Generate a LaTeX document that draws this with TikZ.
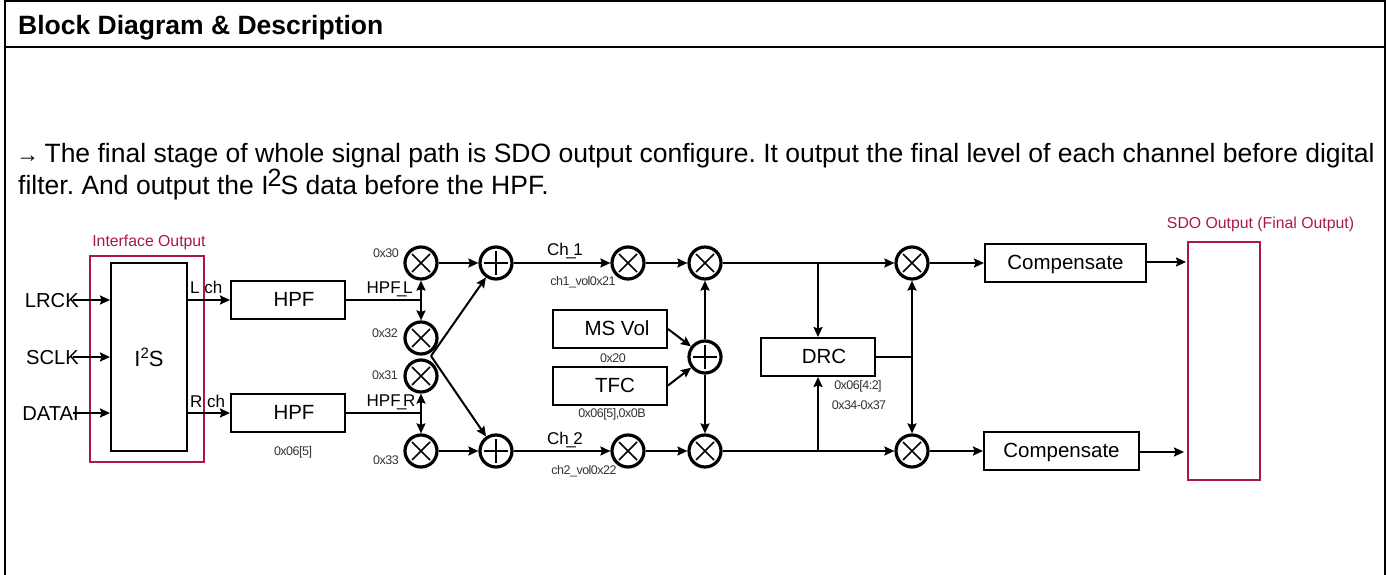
\documentclass[tikz,border=0pt]{standalone}
\usepackage{fontspec}
\setmainfont{Liberation Sans}
\newfontfamily\tightf[LetterSpace=-4]{Liberation Sans}
\usetikzlibrary{arrows.meta}
\definecolor{crim}{HTML}{A8174F}
\definecolor{small}{HTML}{333333}
\newcommand{\fs}[1]{\fontsize{#1pt}{#1pt}\selectfont}
\tikzset{
  x=1pt,y=-1pt,
  box/.style={draw,line width=2pt,minimum width=#1,minimum height=38pt,inner sep=0pt,text height=14.5pt,text depth=1.5pt,font=\fs{20.5}},
  redbox/.style={draw=crim,line width=1.3pt,inner sep=0pt},
  conn/.style={line width=2pt,-{Stealth[length=10pt,width=9pt,inset=1.5pt]}},
  wire/.style={line width=2pt},
  mul/.style={draw,circle,line width=3.2pt,minimum size=32pt,inner sep=0pt,
    path picture={\draw[line width=1.7pt]
      ([shift={(-9pt,-9pt)}]path picture bounding box.center)--([shift={(9pt,9pt)}]path picture bounding box.center)
      ([shift={(-9pt,9pt)}]path picture bounding box.center)--([shift={(9pt,-9pt)}]path picture bounding box.center);}},
  add/.style={draw,circle,line width=3.2pt,minimum size=32pt,inner sep=0pt,
    path picture={\draw[line width=1.7pt]
      ([shift={(-12pt,0pt)}]path picture bounding box.center)--([shift={(12pt,0pt)}]path picture bounding box.center)
      ([shift={(0pt,-12pt)}]path picture bounding box.center)--([shift={(0pt,12pt)}]path picture bounding box.center);}},
  sig/.style={inner sep=0pt,font=\fs{20.2}},
  lab/.style={inner sep=0pt,font=\fs{17}},
  reg/.style={inner sep=0pt,text=small,font=\tightf\fs{12.5}},
  redlab/.style={inner sep=0pt,text=crim,font=\fs{15.8}},
}
\begin{document}
\frenchspacing
\begin{tikzpicture}
\useasboundingbox (0,0) rectangle (1386,575);
% frame
\coordinate (fbl) at (5,575); \coordinate (ftl) at (5,1); \coordinate (ftr) at (1385,1); \coordinate (fbr) at (1385,575);
\coordinate (rl) at (5,47); \coordinate (rr) at (1385,47);
\draw[line width=2pt] (fbl)--(ftl)--(ftr)--(fbr);
\draw[line width=2pt] (rl)--(rr);
\node[anchor=base west,inner sep=0pt,font=\bfseries\fs{26.5}] (title) at (18,35) {Block Diagram \& Description};
\node[anchor=base west,inner sep=0pt,font=\fs{26.5}] (l1) at (18,162) {\kern-2pt{\fs{23}→}\kern-2pt{} The final stage of whole signal path is SDO output configure. It output the final level of each channel before digital};
\node[anchor=base west,inner sep=0pt,font=\fs{26.5}] (l2) at (18,194) {filter. And output the I\kern-1pt\raisebox{8pt}{\fs{25}2}\kern-1pt S data before the HPF.};
% red boxes
\node[redbox,minimum width=114pt,minimum height=206pt] (iface) at (147,359) {};
\node[redbox,minimum width=72pt,minimum height=238pt] (sdo) at (1224,361) {};
\node[redlab] (ifl) at (149,242) {Interface Output};
\node[redlab] (sdl) at (1260.5,224) {SDO Output (Final Output)};
% blocks
\node[draw,line width=2pt,minimum width=76pt,minimum height=188pt,inner sep=0pt,font=\fs{22}] (i2s) at (149,357) {I\raisebox{8pt}{\fs{15}2}S};
\node[box=114pt] (h1) at (288,300) {\hspace*{12pt}HPF};
\node[box=114pt] (h2) at (288,413) {\hspace*{12pt}HPF};
\node[box=114pt] (ms) at (610,329) {\hspace*{14pt}MS Vol};
\node[box=114pt] (tfc) at (610,385.5) {\hspace*{10pt}TFC};
\node[box=114pt] (drc) at (818,357) {\hspace*{12pt}DRC};
\node[box=161pt] (c1) at (1065.5,263) {Compensate};
\node[box=155pt] (c2) at (1061.5,451) {Compensate};
% circles
\node[mul] (m30) at (421,263) {};
\node[mul] (m32) at (421,338) {};
\node[mul] (m31) at (421,376) {};
\node[mul] (m33) at (421,451) {};
\node[add] (a1) at (496,263) {};
\node[add] (a2) at (496,451) {};
\node[mul] (v1) at (628,263) {};
\node[mul] (v2) at (628,451) {};
\node[mul] (g1) at (705,263) {};
\node[mul] (g2) at (705,451) {};
\node[add] (a3) at (705,357) {};
\node[mul] (d1) at (912,263) {};
\node[mul] (d2) at (912,451) {};
% inputs
\node[sig,anchor=east] (lrck) at (79,301) {LRCK};
\node[sig,anchor=east] (sclk) at (79,358) {SCLK};
\node[sig,anchor=east] (datai) at (79,414) {DATAI};
\coordinate (il) at (73,300); \coordinate (is) at (73,357); \coordinate (id) at (73,413);
\draw[conn] (il)--(il-|i2s.west);
\draw[conn] (is)--(is-|i2s.west);
\draw[conn] (id)--(id-|i2s.west);
% i2s to hpf
\draw[conn] (h1.west-|i2s.east)--(h1.west);
\draw[conn] (h2.west-|i2s.east)--(h2.west);
\node[lab,anchor=base west] (lch) at (190,293) {L ch};
\node[lab,anchor=base west] (rch) at (190,407) {R ch};
% hpf outputs
\coordinate (j1) at (421,300); \coordinate (j2) at (421,413);
\draw[wire] (h1.east)--(j1);
\draw[wire] (h2.east)--(j2);
\draw[conn] (j1)--(m30);
\draw[conn] (j1)--(m32);
\draw[conn] (j2)--(m31);
\draw[conn] (j2)--(m33);
\node[lab,anchor=base west] (hl) at (366.5,293) {HPF\kern-3.5pt\_\kern-3.5pt L};
\node[lab,anchor=base west] (hr) at (366.5,406) {HPF\kern-3.5pt\_\kern-3.5pt R};
% forward path
\coordinate (cx) at (431,356);
\draw[conn] (m30)--(a1);
\draw[conn] (m33)--(a2);
\draw[conn] (cx)--(a1);
\draw[conn] (cx)--(a2);
\draw[conn] (a1)--(v1);
\draw[conn] (a2)--(v2);
\draw[conn] (v1)--(g1);
\draw[conn] (v2)--(g2);
\draw[conn] (g1)--(d1);
\draw[conn] (g2)--(d2);
\draw[conn] (a3)--(g1);
\draw[conn] (a3)--(g2);
\draw[conn] (ms.east)--(a3);
\draw[conn] (tfc.east)--(a3);
\coordinate (t1) at (drc.north|-g1); \coordinate (t2) at (drc.south|-g2);
\draw[conn] (t1)--(drc.north);
\draw[conn] (t2)--(drc.south);
\coordinate (dj) at (d1|-drc.east);
\draw[wire] (drc.east)--(dj);
\draw[conn] (dj)--(d1);
\draw[conn] (dj)--(d2);
\draw[conn] (d1)--(c1);
\draw[conn] (d2)--(c2);
\coordinate (s1) at (1186,262); \coordinate (s2) at (1184,452);
\draw[conn] (c1.east|-s1)--(s1);
\draw[conn] (c2.east|-s2)--(s2);
% labels
\node[lab,anchor=base] (ch1) at (565,255) {Ch\kern-2.5pt\_\kern-2.5pt 1};
\node[lab,anchor=base] (ch2) at (565,444) {Ch\kern-2.5pt\_\kern-2.5pt 2};
\node[reg] (r30) at (386,253) {0x30};
\node[reg] (r32) at (385,333) {0x32};
\node[reg] (r31) at (385,375) {0x31};
\node[reg] (r33) at (386,460) {0x33};
\node[reg] (r065) at (293,452) {0x06[5]};
\node[reg] (v1l) at (583,282) {ch1\_vol0x21};
\node[reg] (v2l) at (584,471) {ch2\_vol0x22};
\node[reg] (r20) at (613,358) {0x20};
\node[reg] (rtf) at (612,414) {0x06[5],0x0B};
\node[reg] (rd1) at (858,386) {0x06[4:2]};
\node[reg] (rd2) at (859,405) {0x34-0x37};
\end{tikzpicture}
\end{document}
